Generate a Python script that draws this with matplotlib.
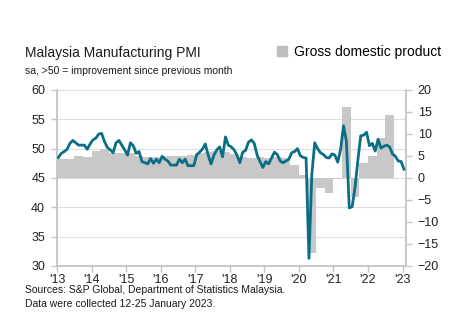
#
# Malaysia Manufacturing PMI vs GDP
#

import matplotlib
matplotlib.use("Agg")
import matplotlib.pyplot as plt
import numpy as np
from matplotlib.patches import Patch

plt.rcParams['font.family'] = ['Liberation Sans', 'DejaVu Sans']

# 1. Input
# monthly PMI, Jan 2013 .. Jan 2023
pmi_2013 = [48.5, 49.2, 49.5, 49.9, 50.9, 51.4, 51.0, 50.6, 50.6, 50.6, 49.9, 50.8]
pmi_2014 = [51.5, 51.8, 52.5, 52.6, 51.2, 50.2, 49.8, 49.3, 51.0, 51.4, 50.6, 49.8]
pmi_2015 = [48.9, 51.0, 50.5, 49.2, 49.5, 47.8, 47.6, 47.4, 48.3, 47.5, 48.2, 47.6]
pmi_2016 = [48.7, 48.2, 47.9, 47.2, 47.2, 47.2, 48.2, 47.6, 48.2, 47.1, 47.1, 47.1]
pmi_2017 = [48.9, 49.4, 49.9, 50.8, 48.9, 47.4, 48.9, 49.8, 50.3, 48.6, 52.0, 50.6]
pmi_2018 = [50.3, 49.8, 48.9, 47.6, 49.4, 49.7, 51.1, 51.5, 50.9, 48.9, 47.8, 46.8]
pmi_2019 = [47.8, 47.4, 48.4, 49.4, 49.0, 47.9, 47.6, 47.9, 48.2, 49.3, 49.5, 50.0]
pmi_2020 = [48.8, 48.5, 48.4, 31.3, 45.6, 51.0, 50.0, 49.3, 49.0, 48.5, 48.4, 49.1]
pmi_2021 = [48.9, 47.7, 49.9, 53.9, 51.3, 39.9, 40.1, 43.4, 48.1, 52.2, 52.3, 52.8]
pmi_2022 = [50.5, 50.9, 49.6, 51.6, 50.1, 50.4, 50.6, 50.3, 49.1, 48.7, 47.9, 47.8]
pmi_2023 = [46.5]

# quarterly GDP, % y/y, Q1 2013 .. Q3 2022
gdp = [4.4, 4.4, 5.0, 4.7,
       6.2, 6.6, 5.6, 5.6,
       5.7, 5.0, 4.7, 4.8,
       5.0, 4.9, 5.0, 5.2,
       5.6, 5.8, 6.2, 5.9,
       5.4, 4.8, 4.6, 4.8,
       4.6, 4.8, 4.6, 3.0,
       0.7, -17.1, -2.2, -3.5,
       -0.3, 16.1, -4.3, 3.4,
       5.0, 9.0, 14.4]

years = list(range(2013, 2024))
year_labels = ["'" + str(y)[2:] for y in years]

# 2. Process
pmi = np.array(pmi_2013 + pmi_2014 + pmi_2015 + pmi_2016 + pmi_2017 + pmi_2018
               + pmi_2019 + pmi_2020 + pmi_2021 + pmi_2022 + pmi_2023)
months = 2013 + (np.arange(len(pmi)) + 0.5) / 12
quarters = 2013 + np.arange(len(gdp)) / 4

# 3. Output
fig = plt.figure(figsize=(4.57, 3.29), dpi=100)
ax = fig.add_axes([0.1247, 0.1915, 0.7637, 0.535])
ax2 = ax.twinx()   # GDP bars
ax3 = ax.twinx()   # PMI line on top

spine_col = '#c4c4c4'

ax.set_ylim(30, 60)
ax.set_yticks(range(30, 61, 5))
ax.grid(axis='y', color='#dedede', lw=0.8)
ax.set_axisbelow(True)
ax.set_xlim(2013, 2023.1)
ax.set_xticks(years)
ax.set_xticklabels(year_labels)
for s in ['top', 'right']:
    ax.spines[s].set_visible(False)
for s in ['left', 'bottom']:
    ax.spines[s].set_color(spine_col)
    ax.spines[s].set_linewidth(1.3)
ax.tick_params(axis='y', colors=spine_col, labelcolor='#222222', length=4,
               width=1, labelsize=9, pad=4.5)
ax.tick_params(axis='x', colors=spine_col, labelcolor='#222222', length=4,
               width=1, labelsize=9, pad=1.5)

ax2.bar(quarters, gdp, width=0.25, align='edge', color='#c8c8c8', lw=0)
ax2.set_ylim(-20, 20)
ax2.set_yticks(range(-20, 21, 5))
for s in ['top', 'left', 'bottom']:
    ax2.spines[s].set_visible(False)
ax2.spines['right'].set_color(spine_col)
ax2.spines['right'].set_linewidth(1.3)
ax2.tick_params(axis='y', colors=spine_col, labelcolor='#222222', length=4,
                width=1, labelsize=9, pad=4.5)

ax3.plot(months, pmi, color='#0a6f86', lw=2.0, solid_joinstyle='round')
ax3.set_ylim(30, 60)
ax3.axis('off')

fig.text(25 / 457, 1 - 57 / 329, "Malaysia Manufacturing PMI",
         fontsize=10, va='baseline', color='#1a1a1a')
fig.text(25 / 457, 1 - 74 / 329, "sa, >50 = improvement since previous month",
         fontsize=7.5, va='baseline', color='#1a1a1a')
fig.legend(handles=[Patch(color='#bdbdbd', label='Gross domestic product')],
           loc='center left', bbox_to_anchor=(277 / 457, 1 - 52 / 329),
           frameon=False, fontsize=10, handlelength=0.75, handleheight=0.75,
           handletextpad=0.45, borderpad=0, borderaxespad=0)

fig.text(25 / 457, 1 - 293 / 329,
         "Sources: S&P Global, Department of Statistics Malaysia.",
         fontsize=7.5, va='baseline', color='#1a1a1a')
fig.text(25 / 457, 1 - 307 / 329, "Data were collected 12-25 January 2023.",
         fontsize=7.5, va='baseline', color='#1a1a1a')

fig.savefig("out.png", dpi=100)
